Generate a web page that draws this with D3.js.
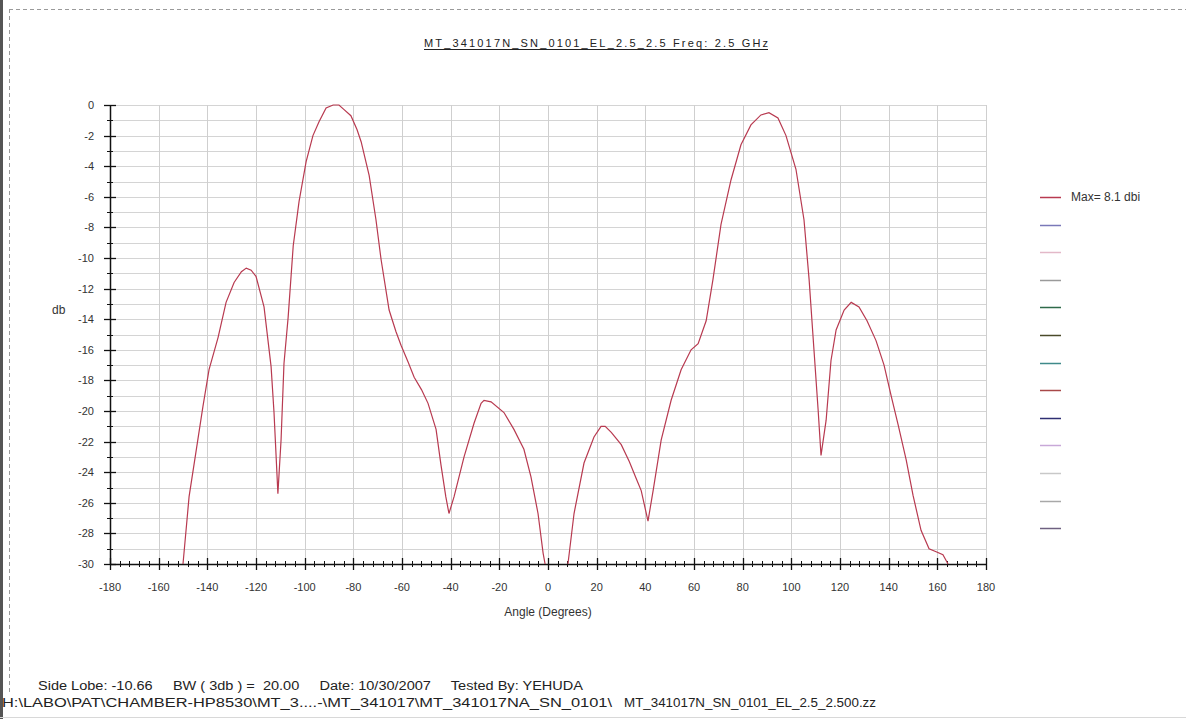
<!DOCTYPE html>
<html><head><meta charset="utf-8">
<script src="https://cdn.jsdelivr.net/npm/d3@7"></script>
<style>
html,body{margin:0;padding:0;background:#fff;}
svg{display:block;font-family:"Liberation Sans",Arial,sans-serif;}
text{white-space:pre;}
</style></head>
<body>
<svg id="chart" width="1186" height="719"></svg>
<script>
// ---- data ----
const title = "MT_341017N_SN_0101_EL_2.5_2.5 Freq: 2.5 GHz";
const xLabel = "Angle (Degrees)";
const yLabel = "db";
const xTickValues = [-180,-160,-140,-120,-100,-80,-60,-40,-20,0,20,40,60,80,100,120,140,160,180];
const yTickValues = [0,-2,-4,-6,-8,-10,-12,-14,-16,-18,-20,-22,-24,-26,-28,-30];
const yTickLabels = ["0","-2","-4","-6","-8","-10","-12","-14","-16","-18","-20","-22","-24","-26","-28","-30"];
// measured pattern (angle in degrees, level in dB); null = below scale
const angles = [-150,-147.5,-144.7,-141.8,-139.3,-135.6,-132.3,-129,-126,-124,-122,-120,-116.7,-113.8,-112.6,-111,-109.7,-108.5,-106.8,-104.7,-102.3,-99.4,-96.6,-94.1,-91.2,-88.3,-85.9,-83.8,-81,-78.5,-76.8,-73.5,-70.7,-68.6,-65.3,-62.5,-60.4,-57.5,-55,-52,-49.3,-46,-44,-42,-40.7,-38.6,-34.5,-30.4,-27.5,-26.3,-23.4,-18.1,-14,-9.9,-7,-4.1,-2,-1.2,
  3,
  8.2,10.7,14.8,18.9,21.8,23.5,26,30.1,33.4,36.2,38.3,41.1,43.2,46.5,50.6,54.7,58.8,61.7,65,67.8,71.1,75.2,79.3,83.4,87.5,90.8,94.5,97.8,101.9,105.2,107.3,109.3,111,112.2,114.3,116.3,118.4,121.7,124.6,127.8,131.1,134.8,138.1,141,143.9,147.2,150,153.3,156.6,159.5,162.3,164.4];
const levels = [-30,-25.6,-22.7,-19.7,-17.3,-15.2,-12.9,-11.6,-10.9,-10.66,-10.8,-11.2,-13.2,-17.1,-20.1,-25.4,-21.9,-16.9,-13.9,-9.2,-6.3,-3.7,-2.0,-1.1,-0.2,0,0,-0.3,-0.7,-1.6,-2.4,-4.6,-7.5,-10.1,-13.4,-14.8,-15.7,-16.8,-17.8,-18.6,-19.5,-21.2,-23.5,-25.6,-26.7,-25.6,-23.0,-20.8,-19.5,-19.3,-19.4,-20.1,-21.2,-22.5,-24.3,-26.7,-29.3,-30,
  null,
  -30,-26.7,-23.4,-21.7,-21.0,-21.0,-21.4,-22.2,-23.3,-24.4,-25.2,-27.2,-25.2,-21.9,-19.3,-17.3,-16.0,-15.6,-14.1,-11.4,-7.8,-4.9,-2.6,-1.3,-0.65,-0.5,-0.85,-2.0,-4.2,-7.5,-11.4,-16.0,-19.9,-22.9,-20.6,-16.7,-14.7,-13.4,-12.9,-13.2,-14.1,-15.4,-17.0,-19.0,-20.9,-23.2,-25.5,-27.8,-29.0,-29.2,-29.4,-30];
const legendNames = ["Max= 8.1 dbi","","","","","","","","","","","",""];
const legendColors = ["#b83a50","#7a78b8","#e3b8c8","#9a9a9a","#2f6a4a","#4a4a2a","#3f8a8a","#a84848","#2e2e72","#c8a8d8","#c8c8c8","#a8a8a8","#6e6080"];
const footer1 = "Side Lobe: -10.66     BW ( 3db ) =  20.00     Date: 10/30/2007     Tested By: YEHUDA";
const footer2a = "H:\\LABO\\PAT\\CHAMBER-HP8530\\MT_3....-\\MT_341017\\MT_341017NA_SN_0101\\";
const footer2b = "MT_341017N_SN_0101_EL_2.5_2.500.zz";

// ---- layout ----
const svg = d3.select("#chart");
const L = 110, R = 986, T = 105, B = 564;
const x = d3.scaleLinear().domain([-180,180]).range([L,R]);
const y = d3.scaleLinear().domain([-30,0]).range([B,T]);

// frame
svg.append("line").attr("x1",1.5).attr("x2",1.5).attr("y1",0).attr("y2",719).attr("stroke","#555").attr("stroke-width",3);
svg.append("line").attr("x1",9).attr("x2",1186).attr("y1",9.5).attr("y2",9.5).attr("stroke","#9a9a9a").attr("stroke-dasharray","4,3");
svg.append("line").attr("x1",9.5).attr("x2",9.5).attr("y1",9).attr("y2",692).attr("stroke","#9a9a9a").attr("stroke-dasharray","4,3");
svg.append("line").attr("x1",0).attr("x2",1186).attr("y1",717.5).attr("y2",717.5).attr("stroke","#d8d8d8");

// grid
const g = svg.append("g");
g.selectAll("line.h").data(d3.range(0,-30,-1)).join("line")
  .attr("x1",L).attr("x2",R).attr("y1",d=>Math.round(y(d))+0.5).attr("y2",d=>Math.round(y(d))+0.5)
  .attr("stroke","#d4d4d4");
g.selectAll("line.v").data(xTickValues.slice(1)).join("line")
  .attr("y1",T).attr("y2",B).attr("x1",d=>Math.round(x(d))+0.5).attr("x2",d=>Math.round(x(d))+0.5)
  .attr("stroke","#cfcfcf");

// axes
const ax = svg.append("g").attr("stroke","#111");
ax.append("line").attr("x1",L+0.5).attr("x2",L+0.5).attr("y1",T).attr("y2",B).attr("stroke-width",1.5);
ax.append("line").attr("x1",L).attr("x2",R).attr("y1",B+0.5).attr("y2",B+0.5).attr("stroke-width",1.5);
ax.selectAll("line.ym").data(yTickValues).join("line")
  .attr("x1",L-6).attr("x2",L+6).attr("y1",d=>Math.round(y(d))+0.5).attr("y2",d=>Math.round(y(d))+0.5).attr("stroke-width",1.3);
ax.selectAll("line.yn").data(d3.range(-1,-30,-2)).join("line")
  .attr("x1",L-3).attr("x2",L+3).attr("y1",d=>Math.round(y(d))+0.5).attr("y2",d=>Math.round(y(d))+0.5);
ax.selectAll("line.xm").data(xTickValues).join("line")
  .attr("y1",B-6).attr("y2",B+6).attr("x1",d=>Math.round(x(d))+0.5).attr("x2",d=>Math.round(x(d))+0.5).attr("stroke-width",1.3);
ax.selectAll("line.xn").data(d3.range(-176,180,4).filter(d=>d%20!==0)).join("line")
  .attr("y1",B-3).attr("y2",B+3).attr("x1",d=>Math.round(x(d))+0.5).attr("x2",d=>Math.round(x(d))+0.5);

const tl = svg.append("g").attr("font-size",11).attr("fill","#333");
tl.selectAll("text.y").data(yTickValues).join("text")
  .attr("x",94).attr("y",d=>y(d)+4).attr("text-anchor","end").text((d,i)=>yTickLabels[i]);
tl.selectAll("text.x").data(xTickValues).join("text")
  .attr("x",d=>x(d)).attr("y",591).attr("text-anchor","middle").text(d=>String(d));

svg.append("text").attr("x",548).attr("y",616).attr("text-anchor","middle").attr("font-size",12).attr("fill","#333").text(xLabel);
svg.append("text").attr("x",52).attr("y",314).attr("font-size",12).attr("fill","#333").text(yLabel);

// title
svg.append("text").attr("x",424).attr("y",47).attr("font-size",11).attr("fill","#222")
  .attr("textLength",344).attr("lengthAdjust","spacing").text(title);
svg.append("line").attr("x1",424).attr("x2",768).attr("y1",49.5).attr("y2",49.5).attr("stroke","#222");

// curve
const pts = angles.map((a,i)=>({a, v: levels[i]}));
const line = d3.line().defined(d=>d.v!==null).x(d=>x(d.a)).y(d=>y(d.v));
svg.append("path").datum(pts).attr("d",line).attr("fill","none").attr("stroke","#b83a50").attr("stroke-width",1.2);

// legend
const lg = svg.append("g");
legendNames.forEach((n,i)=>{
  const yy = 197 + i*27.6;
  lg.append("line").attr("x1",1040).attr("x2",1061).attr("y1",Math.round(yy)+0.5).attr("y2",Math.round(yy)+0.5)
    .attr("stroke",legendColors[i]).attr("stroke-width",1.5);
  if(n) lg.append("text").attr("x",1071).attr("y",yy+4).attr("font-size",12).attr("fill","#333").text(n);
});

// footer
svg.append("text").attr("x",38).attr("y",690).attr("font-size",12).attr("fill","#222")
  .attr("xml:space","preserve").attr("textLength",545).attr("lengthAdjust","spacingAndGlyphs").text(footer1);
svg.append("text").attr("x",2).attr("y",707).attr("font-size",12).attr("fill","#222")
  .attr("textLength",610).attr("lengthAdjust","spacingAndGlyphs").text(footer2a);
svg.append("text").attr("x",624).attr("y",707).attr("font-size",12).attr("fill","#222")
  .attr("textLength",252).attr("lengthAdjust","spacingAndGlyphs").text(footer2b);
</script>
</body></html>
